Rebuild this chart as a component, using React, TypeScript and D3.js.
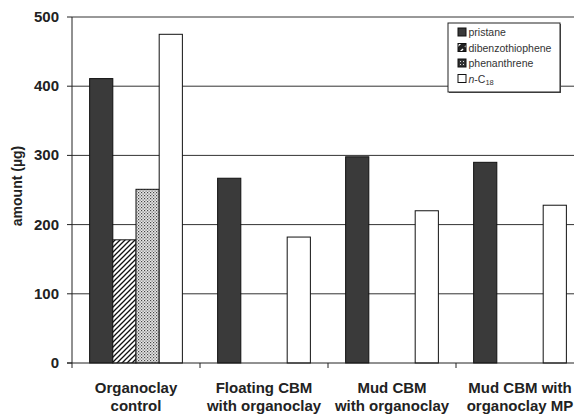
import React from "react";
import * as d3 from "d3";

const categories = [
  ["Organoclay", "control"],
  ["Floating CBM", "with organoclay"],
  ["Mud CBM", "with organoclay"],
  ["Mud CBM with", "organoclay MP"],
];
const seriesNames = ["pristane", "dibenzothiophene", "phenanthrene", "n-C18"];
const pristane = [411, 267, 298, 290];
const dibenzothiophene = [178, 0, 0, 0];
const phenanthrene = [251, 0, 0, 0];
const nC18 = [475, 182, 220, 228];
const yTicks = [0, 100, 200, 300, 400, 500];

const seriesValues = [pristane, dibenzothiophene, phenanthrene, nC18];
const fills = ["#3a3a3a", "url(#hatch)", "url(#dots)", "#ffffff"];
const legendFills = ["#3a3a3a", "url(#hatchL)", "url(#dotsL)", "#ffffff"];

const W = 574;
const H = 414;
const left = 72;
const right = 584;
const top = 17;
const bottom = 363;
const font = "'Liberation Sans', Arial, sans-serif";

export default function App() {
  const catKeys = categories.map((c) => c.join(" "));
  const x = d3.scaleBand().domain(catKeys).range([left, right]).paddingInner(0).paddingOuter(0);
  const xi = d3.scaleBand().domain(seriesNames).range([0, x.bandwidth()]).paddingInner(0).paddingOuter(0.76);
  const y = d3.scaleLinear().domain([0, 500]).range([bottom, top]);

  return (
    <svg width={W} height={H} style={{ position: "absolute", left: 0, top: 0, background: "#fff" }} fontFamily={font}>
      <defs>
        <pattern id="hatch" patternUnits="userSpaceOnUse" width="5" height="5">
          <rect width="5" height="5" fill="#fff" />
          <path d="M-1,1 l2,-2 M0,5 l5,-5 M4,6 l2,-2" stroke="#111" strokeWidth="1.3" />
        </pattern>
        <pattern id="dots" patternUnits="userSpaceOnUse" width="3" height="3">
          <rect width="3" height="3" fill="#e8e8e8" />
          <rect x="0" y="0" width="1.2" height="1.2" fill="#444" />
          <rect x="1.5" y="1.5" width="1.2" height="1.2" fill="#666" />
        </pattern>
        <pattern id="hatchL" patternUnits="userSpaceOnUse" width="8" height="8">
          <rect width="8" height="8" fill="#222" />
          <path d="M1,7 L7,1" stroke="#fff" strokeWidth="1.5" />
        </pattern>
        <pattern id="dotsL" patternUnits="userSpaceOnUse" width="3" height="3">
          <rect width="3" height="3" fill="#333" />
          <rect x="1" y="1" width="1" height="1" fill="#ddd" />
        </pattern>
      </defs>

      {/* gridlines */}
      {yTicks.slice(1).map((t) => (
        <line key={t} x1={left} x2={right} y1={y(t)} y2={y(t)} stroke="#333" strokeWidth={1} />
      ))}

      {/* bars */}
      {seriesValues.map((vals, si) =>
        vals.map((v, ci) =>
          v > 0 ? (
            <rect
              key={`${si}-${ci}`}
              x={(x(catKeys[ci]) ?? 0) + (xi(seriesNames[si]) ?? 0)}
              y={y(v)}
              width={xi.bandwidth()}
              height={y(0) - y(v)}
              fill={fills[si]}
              stroke="#111"
              strokeWidth={1}
            />
          ) : null
        )
      )}

      {/* axes */}
      <line x1={left} x2={left} y1={top} y2={bottom} stroke="#222" />
      <line x1={left - 5} x2={right} y1={bottom} y2={bottom} stroke="#222" />
      {yTicks.map((t) => (
        <g key={t}>
          <line x1={left - 5} x2={left} y1={y(t)} y2={y(t)} stroke="#222" />
          <text x={59} y={y(t) + 5} textAnchor="end" fontSize={15} fontWeight="bold" fill="#222">
            {t}
          </text>
        </g>
      ))}
      {catKeys.map((k) => (
        <line key={k} x1={x(k)} x2={x(k)} y1={bottom} y2={bottom + 5} stroke="#222" />
      ))}
      {categories.map((c, i) => (
        <text key={i} x={(x(catKeys[i]) ?? 0) + x.bandwidth() / 2} textAnchor="middle" fontSize={15} fontWeight="bold" fill="#222">
          <tspan x={(x(catKeys[i]) ?? 0) + x.bandwidth() / 2} y={392.5}>{c[0]}</tspan>
          <tspan x={(x(catKeys[i]) ?? 0) + x.bandwidth() / 2} y={411}>{c[1]}</tspan>
        </text>
      ))}
      <text transform={`translate(22,186) rotate(-90)`} textAnchor="middle" fontSize={14} fontWeight="bold" fill="#222">
        amount (µg)
      </text>

      {/* legend */}
      <g>
        <rect x={449} y={24} width={112} height={69} fill="#555" />
        <rect x={448} y={23} width={112} height={69} fill="#fff" stroke="#222" />
        {seriesNames.map((s, i) => {
          const ly = 32 + i * 15.5;
          return (
            <g key={s}>
              <rect x={458} y={ly - 4} width={8} height={8} fill={legendFills[i]} stroke="#111" />
              <text x={468.5} y={ly + 4} fontSize={10.5} fill="#333">
                {s === "n-C18" ? (
                  <>
                    <tspan fontStyle="italic">n</tspan>
                    <tspan>-C</tspan>
                    <tspan fontSize={7.5} dy={2}>18</tspan>
                  </>
                ) : (
                  s
                )}
              </text>
            </g>
          );
        })}
      </g>
    </svg>
  );
}
